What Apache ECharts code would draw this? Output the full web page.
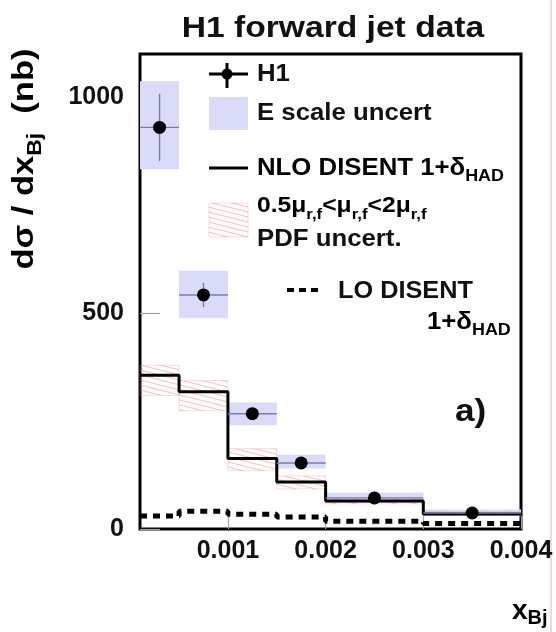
<!DOCTYPE html>
<html>
<head>
<meta charset="utf-8">
<script src="https://cdn.jsdelivr.net/npm/echarts@6/dist/echarts.min.js"></script>
<style>html,body{margin:0;padding:0;background:#fff;}#c{width:556px;height:632px;}</style>
</head>
<body>
<div id="c"></div>
<script>
// ---- data ----
const binLo = [0.0001, 0.0005, 0.001, 0.0015, 0.002, 0.003];
const binHi = [0.0005, 0.001, 0.0015, 0.002, 0.003, 0.004];
const h1X = [0.0003, 0.00075, 0.00125, 0.00175, 0.0025, 0.0035];
const h1Y = [930, 542, 267, 153, 72, 37];
const h1Err = [78, 28, 12, 8, 5, 4];
const eScaleLo = [833, 488, 240, 140, 60, 30];
const eScaleHi = [1037, 598, 293, 172, 84, 45];
const nloY = [356, 318, 163, 109, 65, 35];
const bandLo = [309, 274, 135, 93, 58, 32];
const bandHi = [379, 344, 186, 123, 71, 40];
const loY = [30, 41, 34, 28, 18, 13];
const xTicks = [0.001, 0.002, 0.003, 0.004];
const yTicks = [0, 500, 1000];

// hatch pattern
const pc = document.createElement('canvas');
pc.width = 20; pc.height = 5;
const pctx = pc.getContext('2d');
pctx.strokeStyle = 'rgba(236,100,100,0.55)';
pctx.lineWidth = 0.8;
pctx.beginPath();
pctx.moveTo(-20, -5); pctx.lineTo(40, 10);
pctx.moveTo(-20, 0); pctx.lineTo(40, 15);
pctx.moveTo(-20, -10); pctx.lineTo(40, 5);
pctx.stroke();
const hatch = {image: pc, repeat: 'repeat'};

const FONT = '"Liberation Sans", Arial, Helvetica, sans-serif';
const boxData = binLo.map((b, i) => [b, binHi[i], eScaleLo[i], eScaleHi[i]]);
const bandData = binLo.map((b, i) => [b, binHi[i], bandLo[i], bandHi[i]]);
const errData = h1X.map((x, i) => [x, h1Y[i], binLo[i], binHi[i], h1Y[i] - h1Err[i], h1Y[i] + h1Err[i]]);
const stepData = arr => binLo.map((b, i) => [b, arr[i]]).concat([[binHi[binHi.length - 1], arr[arr.length - 1]]]);

function rectItem(style) {
  return function (params, api) {
    const p0 = api.coord([api.value(0), api.value(3)]);
    const p1 = api.coord([api.value(1), api.value(2)]);
    return {type: 'rect', shape: {x: p0[0], y: p0[1], width: p1[0] - p0[0], height: p1[1] - p0[1]}, style: style};
  };
}

const chart = echarts.init(document.getElementById('c'), null, {renderer: 'canvas'});
const txt = {fontFamily: FONT, fontWeight: 'bold', fill: '#111'};
const richMain = (fs, lh) => ({fontFamily: FONT, fontWeight: 'bold', fontSize: fs, lineHeight: lh, color: '#111'});
const richSub = (fs, lh) => ({fontFamily: FONT, fontWeight: 'bold', fontSize: fs, lineHeight: lh, color: '#111', verticalAlign: 'bottom'});
const SX = 1.12;

chart.setOption({
  animation: false,
  backgroundColor: '#fff',
  grid: {left: 140, right: 35, top: 54, bottom: 103, show: true, borderColor: '#000', borderWidth: 3, backgroundColor: 'transparent'},
  xAxis: {
    type: 'value', min: 0.0001, max: 0.004,
    axisLine: {show: false},
    splitLine: {show: false},
    axisTick: {inside: true, length: 13, lineStyle: {color: '#a0a0c0', width: 1.2}, customValues: xTicks},
    axisLabel: {customValues: xTicks, formatter: v => v.toFixed(3), fontFamily: FONT, fontWeight: 'bold', fontSize: 25, color: '#111', margin: 10}
  },
  yAxis: {
    type: 'value', min: 0, max: 1100,
    axisLine: {show: false},
    splitLine: {show: false},
    axisTick: {inside: true, length: 20, lineStyle: {color: '#a0a0b0', width: 1.2}, customValues: yTicks},
    axisLabel: {customValues: yTicks, formatter: v => String(v), fontFamily: FONT, fontWeight: 'bold', fontSize: 25, color: '#111', margin: 16}
  },
  series: [
    {type: 'custom', name: 'E scale uncert', data: boxData, encode: {x: [0, 1], y: [2, 3]},
     renderItem: rectItem({fill: '#dadaf9'}), z: 1},
    {type: 'custom', name: 'band', data: bandData, encode: {x: [0, 1], y: [2, 3]},
     renderItem: rectItem({fill: hatch, stroke: 'rgba(240,130,130,0.4)', lineWidth: 0.7}), z: 2},
    {type: 'line', name: 'NLO', data: stepData(nloY), step: 'end', symbol: 'none',
     lineStyle: {color: '#000', width: 3}, z: 3},
    {type: 'line', name: 'LO', data: stepData(loY), step: 'end', symbol: 'none',
     lineStyle: {color: '#000', width: 5, type: [7, 6]}, z: 3},
    {type: 'custom', name: 'err', data: errData, encode: {x: [0, 2, 3], y: [1, 4, 5]}, z: 4,
     renderItem: function (params, api) {
       const l = api.coord([api.value(2), api.value(1)]);
       const r = api.coord([api.value(3), api.value(1)]);
       const t = api.coord([api.value(0), api.value(5)]);
       const b = api.coord([api.value(0), api.value(4)]);
       const st = {stroke: '#7c7caa', lineWidth: 1.4};
       return {type: 'group', children: [
         {type: 'line', shape: {x1: l[0], y1: l[1], x2: r[0], y2: r[1]}, style: st},
         {type: 'line', shape: {x1: t[0], y1: t[1], x2: b[0], y2: b[1]}, style: st}
       ]};
     }},
    {type: 'scatter', name: 'H1', data: h1X.map((x, i) => [x, h1Y[i]]), symbol: 'circle', symbolSize: 13,
     itemStyle: {color: '#000', opacity: 1}, z: 5}
  ],
  graphic: [
    {type: 'text', x: 333, y: 14, scaleX: 1.12,
     style: Object.assign({text: 'H1 forward jet data', fontSize: 30, align: 'center'}, txt)},
    // y axis title
    {type: 'text', x: 25, y: 159, rotation: Math.PI / 2, scaleX: 1.15,
     style: {text: '{n|dσ / dx}{s|Bj}{n|  (nb)}', align: 'center', verticalAlign: 'middle',
             rich: {n: richMain(30, 40), s: richSub(20, 18)}}},
    // x axis title
    {type: 'text', x: 512, y: 594,
     style: {text: '{n|x}{s|Bj}', rich: {n: richMain(28, 34), s: richSub(20, 17)}}},
    // a)
    {type: 'text', x: 455, y: 396, scaleX: 1.1, style: Object.assign({text: 'a)', fontSize: 32}, txt)},
    // legend: H1
    {type: 'line', shape: {x1: 209, y1: 74, x2: 248, y2: 74}, style: {stroke: '#000', lineWidth: 3}},
    {type: 'line', shape: {x1: 227, y1: 63, x2: 227, y2: 88}, style: {stroke: '#000', lineWidth: 3}},
    {type: 'circle', shape: {cx: 227, cy: 74, r: 5.5}, style: {fill: '#000'}},
    {type: 'text', x: 257, y: 75, scaleX: SX, style: Object.assign({text: 'H1', fontSize: 23, verticalAlign: 'middle'}, txt)},
    // E scale
    {type: 'rect', shape: {x: 209, y: 97, width: 39, height: 33}, style: {fill: '#dadaf9'}},
    {type: 'text', x: 257, y: 114, scaleX: SX, style: Object.assign({text: 'E scale uncert', fontSize: 23, verticalAlign: 'middle'}, txt)},
    // NLO
    {type: 'line', shape: {x1: 209, y1: 168, x2: 248, y2: 168}, style: {stroke: '#000', lineWidth: 3}},
    {type: 'text', x: 257, y: 153, scaleX: SX,
     style: {text: '{n|NLO DISENT 1+δ}{s|HAD}', rich: {n: richMain(23, 32), s: richSub(16, 14)}}},
    // band
    {type: 'rect', shape: {x: 209, y: 203, width: 39, height: 34}, style: {fill: hatch, stroke: 'rgba(240,130,130,0.4)', lineWidth: 0.7}},
    {type: 'text', x: 257, y: 190, scaleX: SX,
     style: {text: '{n|0.5μ}{s|r,f}{n|<μ}{s|r,f}{n|<2μ}{s|r,f}', rich: {n: richMain(22, 32), s: richSub(15, 14)}}},
    {type: 'text', x: 257, y: 240, scaleX: SX, style: Object.assign({text: 'PDF uncert.', fontSize: 23, verticalAlign: 'middle'}, txt)},
    // LO
    {type: 'line', shape: {x1: 287, y1: 290, x2: 321, y2: 290}, style: {stroke: '#000', lineWidth: 4, lineDash: [7, 5]}},
    {type: 'text', x: 338, y: 292, scaleX: 1.1, style: Object.assign({text: 'LO DISENT', fontSize: 23, verticalAlign: 'middle'}, txt)},
    {type: 'text', x: 427, y: 307, scaleX: SX,
     style: {text: '{n|1+δ}{s|HAD}', rich: {n: richMain(23, 32), s: richSub(16, 14)}}},
    // right pink edge
    {type: 'line', shape: {x1: 551, y1: 0, x2: 551, y2: 632}, style: {stroke: '#f6c8c8', lineWidth: 1.5}}
  ]
});
</script>
</body>
</html>
